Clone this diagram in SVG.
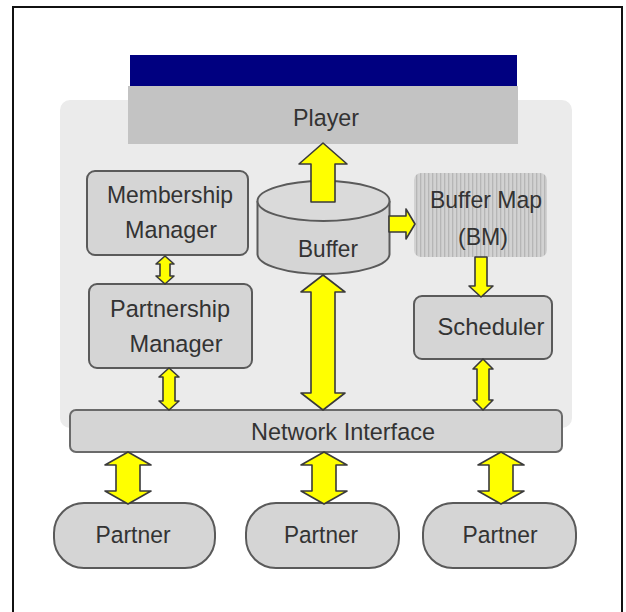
<svg xmlns="http://www.w3.org/2000/svg" width="626" height="612" viewBox="0 0 626 612">
<defs>
<style>
.box{fill:#d5d5d5;stroke:#5a5a5a;stroke-width:2}
.arr{fill:#ffff00;stroke:#3a3a3a;stroke-width:1.6;stroke-linejoin:round}
.t{font-family:"Liberation Sans",Arial,sans-serif;font-size:24.5px;fill:#333;text-anchor:middle}
</style>
<pattern id="stripes" width="4" height="10" patternUnits="userSpaceOnUse">
<rect width="4" height="10" fill="#d2d2d2"/>
<rect width="1.3" height="10" fill="#b6b6b6"/>
</pattern>
</defs>
<rect x="0" y="0" width="626" height="612" fill="#ffffff"/>
<path d="M13,614 L13,7 L622,7 L622,614" fill="none" stroke="#111" stroke-width="2"/>
<rect x="60" y="100" width="512" height="328" rx="10" fill="#ebebeb"/>

<g id="player">
<rect x="130" y="55" width="387" height="31" fill="#000080"/>
<rect x="128" y="86" width="390" height="58" fill="#c3c3c3"/>
<text class="t" x="326" y="126" textLength="66" lengthAdjust="spacingAndGlyphs">Player</text>
</g>

<g id="membership">
<rect class="box" x="87" y="171" width="161" height="84" rx="8"/>
<text class="t" x="170" y="203" textLength="126" lengthAdjust="spacingAndGlyphs">Membership</text>
<text class="t" x="171" y="238" textLength="92" lengthAdjust="spacingAndGlyphs">Manager</text>
</g>

<g id="partnership">
<rect class="box" x="89" y="284" width="163" height="84" rx="8"/>
<text class="t" x="170" y="317" textLength="120" lengthAdjust="spacingAndGlyphs">Partnership</text>
<text class="t" x="176" y="352" textLength="93" lengthAdjust="spacingAndGlyphs">Manager</text>
</g>

<g id="buffer">
<path d="M257.5,201 L257.5,254 A66,20 0 0 0 389.5,254 L389.5,201" fill="#d5d5d5" stroke="#5a5a5a" stroke-width="2"/>
<ellipse cx="323.5" cy="201" rx="66" ry="20" fill="#dadada" stroke="#5a5a5a" stroke-width="2"/>
<text class="t" x="328" y="257" textLength="60" lengthAdjust="spacingAndGlyphs">Buffer</text>
</g>

<g id="buffermap">
<rect x="414" y="173" width="133" height="84" rx="7" fill="url(#stripes)"/>
<text class="t" x="486" y="208" textLength="112" lengthAdjust="spacingAndGlyphs">Buffer Map</text>
<text class="t" x="483" y="245" textLength="50" lengthAdjust="spacingAndGlyphs">(BM)</text>
</g>

<g id="scheduler">
<rect class="box" x="414" y="296" width="138" height="63" rx="8"/>
<text class="t" x="491" y="335" textLength="107" lengthAdjust="spacingAndGlyphs">Scheduler</text>
</g>

<g id="network">
<rect x="70" y="410" width="492" height="42" rx="6" fill="#d5d5d5" stroke="#6a6a6a" stroke-width="2"/>
<text class="t" x="343" y="440" textLength="184" lengthAdjust="spacingAndGlyphs">Network Interface</text>
</g>

<g id="partner1">
<rect class="box" x="54" y="503" width="161" height="65" rx="30"/>
<text class="t" x="133" y="543" textLength="75" lengthAdjust="spacingAndGlyphs">Partner</text>
</g>
<g id="partner2">
<rect class="box" x="246" y="503" width="153" height="65" rx="30"/>
<text class="t" x="321" y="543" textLength="74" lengthAdjust="spacingAndGlyphs">Partner</text>
</g>
<g id="partner3">
<rect class="box" x="423" y="503" width="153" height="65" rx="30"/>
<text class="t" x="500" y="543" textLength="75" lengthAdjust="spacingAndGlyphs">Partner</text>
</g>

<g id="connectors">
<path class="arr" d="M323,143 L347,164 L335,164 L335,202 L311,202 L311,164 L299,164 Z"/>
<path class="arr" d="M415,224 L406,209 L406,216 L389,216 L389,232 L406,232 L406,239 Z"/>
<path class="arr" d="M165,256 L174,264 L170,264 L170,276 L174,276 L165,284 L156,276 L160,276 L160,264 L156,264 Z"/>
<path class="arr" d="M169,368 L179,377 L175,377 L175,401 L179,401 L169,410 L159,401 L163,401 L163,377 L159,377 Z"/>
<path class="arr" d="M323,275 L345,292 L335,292 L335,393 L345,393 L323,410 L301,393 L311,393 L311,292 L301,292 Z"/>
<path class="arr" d="M481,297 L493,286 L487,286 L487,257 L475,257 L475,286 L469,286 Z"/>
<path class="arr" d="M483,359 L493,369 L489,369 L489,400 L493,400 L483,410 L473,400 L477,400 L477,369 L473,369 Z"/>
<path class="arr" d="M128,452 L151,465 L140,465 L140,491 L151,491 L128,504 L105,491 L116,491 L116,465 L105,465 Z"/>
<path class="arr" d="M324,452 L347,465 L336,465 L336,491 L347,491 L324,504 L301,491 L312,491 L312,465 L301,465 Z"/>
<path class="arr" d="M501,452 L524,465 L513,465 L513,491 L524,491 L501,504 L478,491 L489,491 L489,465 L478,465 Z"/>
</g>
</svg>
